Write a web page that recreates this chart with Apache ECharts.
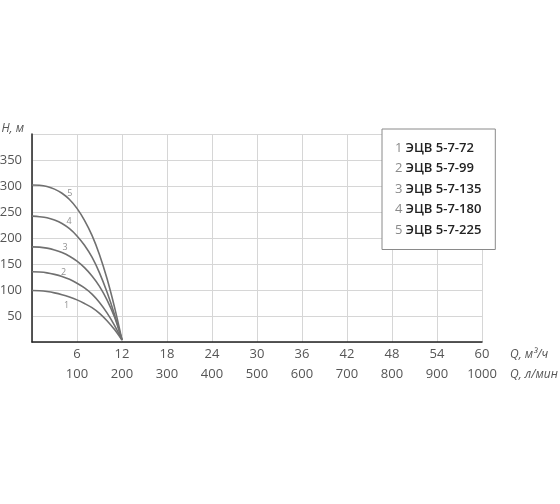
<!DOCTYPE html>
<html lang="ru">
<head>
    <meta charset="UTF-8">
    <title>ЭЦВ 5-7</title>
    <script src="https://cdn.jsdelivr.net/npm/echarts@6/dist/echarts.min.js"></script>
    <style>
        html, body { margin: 0; padding: 0; background: #fff; }
        #chart { width: 560px; height: 504px; }
    </style>
</head>
<body>
<div id="chart"></div>
<script type="text/javascript">
// подача, м3/ч
var flow = [0, 1, 2, 3, 4, 5, 6, 7, 8, 9, 10, 11, 12];

// напор, м (по кривым 1..5)
var head1 = [99, 98.5, 97, 94.5, 91, 86.5, 81, 74, 66, 55, 41, 24, 4];
var head2 = [135, 134.5, 133, 130, 126, 120.5, 113, 104, 92, 76, 56, 32, 4];
var head3 = [183, 182.5, 180.5, 177, 172, 165, 155.5, 143, 127, 107, 81, 48, 4];
var head4 = [242, 241, 239, 234.5, 228, 218, 204, 186, 163, 133, 96, 53, 4];
var head5 = [302, 301.5, 299, 294, 286, 274, 257, 234, 205, 168, 122, 67, 4];

var models = ['ЭЦВ 5-7-72', 'ЭЦВ 5-7-99', 'ЭЦВ 5-7-135', 'ЭЦВ 5-7-180', 'ЭЦВ 5-7-225'];

// подписи номеров на кривых
var tagQ = [4.6, 4.2, 4.4, 4.95, 5.05];
var tagH = [70, 134, 181, 231, 286];

// подписи осей
var xTicks = [6, 12, 18, 24, 30, 36, 42, 48, 54, 60];
var lpmTicks = [100, 200, 300, 400, 500, 600, 700, 800, 900, 1000];
var yTicks = [50, 100, 150, 200, 250, 300, 350];

var heads = [head1, head2, head3, head4, head5];
var font = '"Open Sans", "Noto Sans", sans-serif';
var curveColor = '#707070';

var chart = echarts.init(document.getElementById('chart'));

var series = heads.map(function (h, i) {
    return {
        name: models[i],
        type: 'line',
        smooth: 0.3,
        symbol: 'none',
        lineStyle: { color: curveColor, width: 1.6 },
        itemStyle: { color: curveColor },
        data: flow.map(function (q, k) { return [q, h[k]]; })
    };
});

series.push({
    type: 'scatter',
    silent: true,
    symbolSize: 0,
    label: {
        show: true,
        position: 'inside',
        formatter: function (p) { return String(p.dataIndex + 1); },
        color: '#777',
        fontSize: 9,
        fontFamily: font
    },
    data: tagQ.map(function (q, i) { return [q, tagH[i]]; })
});

var option = {
    animation: false,
    textStyle: { fontFamily: font },
    grid: { left: 32, right: 78, top: 134, bottom: 162, outerBoundsMode: 'none', containLabel: false },
    legend: {
        data: models,
        orient: 'vertical',
        left: 382,
        top: 129,
        icon: 'none',
        itemWidth: 0,
        itemHeight: 14,
        itemGap: 7,
        padding: [12, 14, 13, 8],
        backgroundColor: '#fff',
        borderColor: '#8a8a8a',
        borderWidth: 1,
        selectedMode: false,
        formatter: function (name) {
            var i = models.indexOf(name);
            return '{n|' + (i + 1) + '} {t|' + name + '}';
        },
        textStyle: {
            rich: {
                n: { color: '#8a8a8a', fontSize: 13, fontFamily: font },
                t: { color: '#222', fontSize: 13, fontWeight: 600, fontFamily: font }
            }
        }
    },
    xAxis: {
        type: 'value',
        min: 0,
        max: 60,
        interval: 6,
        name: '{a|Q, м³/ч}\n{a|Q, л/мин}',
        nameLocation: 'end',
        nameGap: 28,
        nameTextStyle: {
            verticalAlign: 'top',
            align: 'left',
            lineHeight: 20,
            padding: [3, 0, 0, 0],
            rich: { a: { fontStyle: 'italic', color: '#555', fontSize: 12, fontFamily: font, lineHeight: 20 } }
        },
        axisLine: { lineStyle: { color: '#222', width: 1.5 } },
        axisTick: { show: false },
        axisLabel: {
            margin: 2,
            color: '#555',
            fontSize: 13,
            lineHeight: 20,
            formatter: function (v) {
                var i = xTicks.indexOf(v);
                return i < 0 ? '' : xTicks[i] + '\n' + lpmTicks[i];
            }
        },
        splitLine: { show: true, lineStyle: { color: '#d6d6d6', width: 1 } }
    },
    yAxis: {
        type: 'value',
        min: 0,
        max: 400,
        interval: 50,
        name: 'H, м',
        nameLocation: 'end',
        nameGap: 5,
        nameTextStyle: {
            align: 'right',
            verticalAlign: 'middle',
            fontStyle: 'italic',
            color: '#555',
            fontSize: 12,
            padding: [0, 8, 0, 0]
        },
        axisLine: { show: true, lineStyle: { color: '#222', width: 1.5 } },
        axisTick: { show: false },
        axisLabel: {
            margin: 10,
            color: '#555',
            fontSize: 13,
            formatter: function (v) {
                return yTicks.indexOf(v) < 0 ? '' : String(v);
            }
        },
        splitLine: { show: true, lineStyle: { color: '#d6d6d6', width: 1 } }
    },
    series: series
};

chart.setOption(option);
</script>
</body>
</html>
